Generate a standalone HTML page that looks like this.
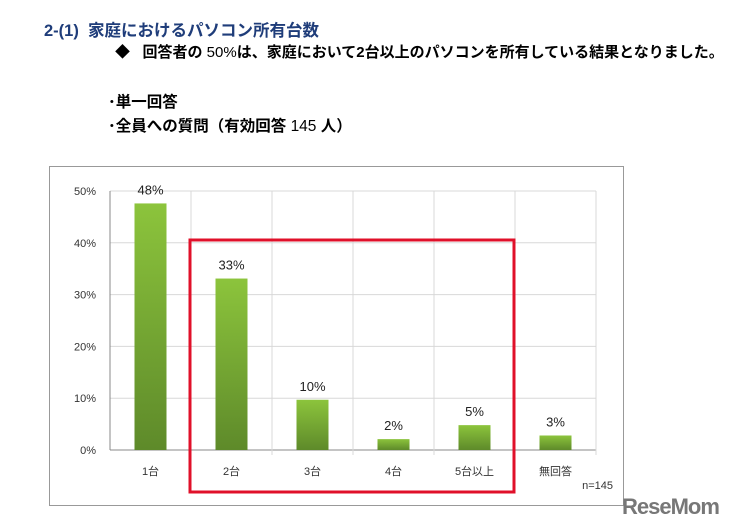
<!DOCTYPE html>
<html><head><meta charset="utf-8">
<style>
body{margin:0;width:733px;height:528px;background:#fff;overflow:hidden;font-family:"Liberation Sans","Noto Sans CJK JP",sans-serif;position:relative}
.t{position:absolute;white-space:nowrap;font-weight:bold}
</style></head><body>
<div class="t" style="left:44px;top:17px;font-size:16.5px;color:#1f3d7a">2-(1)&nbsp; 家庭におけるパソコン所有台数</div>
<div class="t" style="left:115px;top:41px;font-size:15px;color:#000">◆&nbsp;&nbsp; 回答者の <span style="font-weight:normal">50%</span>は、家庭において2台以上のパソコンを所有している結果となりました。</div>
<div class="t" style="left:108px;top:90px;font-size:15.5px">･単一回答</div>
<div class="t" style="left:108px;top:114px;font-size:15.5px">･全員への質問（有効回答 <span style="font-weight:normal">145</span> 人）</div>
<svg id="chart" width="733" height="528" style="position:absolute;left:0;top:0"></svg>
<div class="t" style="left:622px;top:494px;font-size:22px;color:#777;letter-spacing:-1px">ReseMom</div>
<script>
const categories=["1台","2台","3台","4台","5台以上","無回答"];
const values=[47.6,33.1,9.7,2.1,4.8,2.8];
const valueLabels=["48%","33%","10%","2%","5%","3%"];
const ticks=[0,10,20,30,40,50];
const NS="http://www.w3.org/2000/svg";
const svg=document.getElementById("chart");
const x0=110,pw=486,y0=450,ph=259,ymax=50;
const bw=pw/categories.length;
const y=v=>y0-v/ymax*ph;
const xc=i=>x0+bw*(i+0.5);
function mk(t,a,p){const e=document.createElementNS(NS,t);for(const k in a)e.setAttribute(k,a[k]);(p||svg).appendChild(e);return e;}
const defs=mk("defs",{});
const g=mk("linearGradient",{id:"gr",x1:0,y1:0,x2:0,y2:1},defs);
mk("stop",{offset:"0","stop-color":"#8cc43c"},g);mk("stop",{offset:"1","stop-color":"#5e8a2a"},g);
const border=mk("rect",{x:49.5,y:166.5,width:574,height:339,fill:"#fff",stroke:"#999"});


ticks.forEach(t=>{
 const l=mk("line",{x1:x0,x2:x0+pw,y1:y(t),y2:y(t),stroke:t===0?"#888":"#d8d8d8"});
 
 
 const tx=mk("text",{x:x0-14,y:y(t)+4,"text-anchor":"end","font-size":"11",fill:"#333"});
 tx.textContent=t+"%";
 
 
});
for(let i=1;i<=categories.length;i++){
 const l=mk("line",{x1:x0+bw*i,x2:x0+bw*i,y1:y(ymax),y2:y0+5,stroke:"#d8d8d8"});
 
 
}
const ax=mk("line",{x1:x0,x2:x0,y1:y(ymax),y2:y0,stroke:"#888"});


categories.forEach((c,i)=>{
 const r=mk("rect",{x:xc(i)-16,y:y(values[i]),width:32,height:y0-y(values[i]),fill:"url(#gr)"});
 
 
 const vl=mk("text",{x:xc(i),y:y(values[i])-9,"text-anchor":"middle","font-size":"13",fill:"#222"});
 vl.textContent=valueLabels[i];
 
 
 const cl=mk("text",{x:xc(i),y:y0+25,"text-anchor":"middle","font-size":"11",fill:"#333"});
 cl.textContent=c;
 
 
});
const n=mk("text",{x:613,y:489,"text-anchor":"end","font-size":"11",fill:"#333"});
n.textContent="n=145";


const hl=mk("rect",{x:190,y:240,width:324,height:252,fill:"none",stroke:"#e0102a","stroke-width":3});


</script>
</body></html>
